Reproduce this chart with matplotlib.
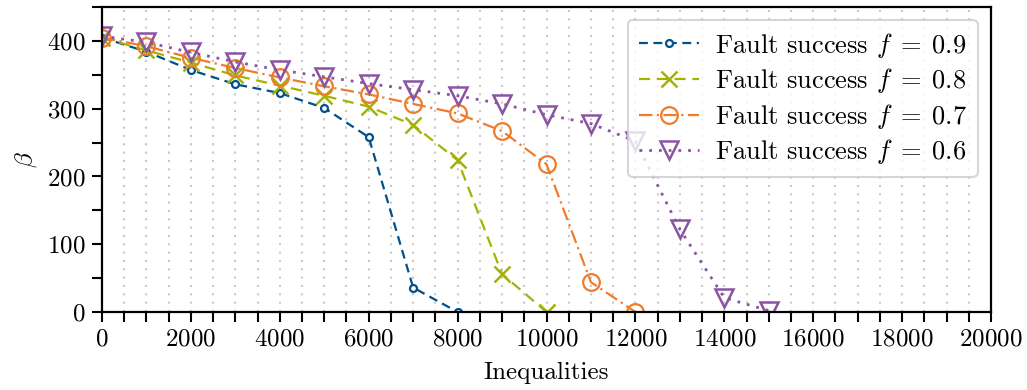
import matplotlib
matplotlib.use('Agg')
from matplotlib import pyplot as plt
from matplotlib.ticker import MultipleLocator

plt.rcParams['font.family'] = 'cmr10'
plt.rcParams['mathtext.fontset'] = 'cm'
plt.rcParams['axes.formatter.use_mathtext'] = True
plt.rcParams['font.size'] = 18

x_09 = [0, 1000, 2000, 3000, 4000, 5000, 6000, 7000, 8000]
beta_09 = [405, 384, 357, 336, 323, 301, 258, 36, 0]

x_08 = [0, 1000, 2000, 3000, 4000, 5000, 6000, 7000, 8000, 9000, 10000]
beta_08 = [405, 386, 368, 349, 334, 319, 303, 276, 224, 56, 0]

x_07 = [0, 1000, 2000, 3000, 4000, 5000, 6000, 7000, 8000, 9000, 10000, 11000, 12000]
beta_07 = [405, 392, 375, 360, 346, 333, 321, 307, 293, 267, 218, 44, 0]

x_06 = [0, 1000, 2000, 3000, 4000, 5000, 6000, 7000, 8000, 9000, 10000, 11000,
        12000, 13000, 14000, 15000]
beta_06 = [407, 398, 383, 369, 357, 347, 337, 328, 319, 307, 291, 278, 252, 122, 21, 2]

labels = [r'Fault success $f\;=\;0.9$', r'Fault success $f\;=\;0.8$',
          r'Fault success $f\;=\;0.7$', r'Fault success $f\;=\;0.6$']

fig = plt.figure(figsize=(10.27, 3.9), dpi=100)
ax = fig.add_axes([102 / 1027, 1 - 312 / 390, 889 / 1027, 305 / 390])

ax.plot(x_09, beta_09, linestyle=(0, (4, 2.5)), color='#00508c', marker='o',
        markersize=5, markerfacecolor='white', markeredgewidth=1.6, linewidth=1.6,
        label=labels[0])
ax.plot(x_08, beta_08, linestyle=(0, (5, 3)), color='#a5b300', marker='x',
        markersize=12, markeredgewidth=1.8, linewidth=1.6, label=labels[1])
ax.plot(x_07, beta_07, linestyle=(0, (6, 2, 1, 2)), color='#ef7b2b', marker='o',
        markersize=12, markerfacecolor='none', markeredgewidth=1.6, linewidth=1.6,
        label=labels[2])
ax.plot(x_06, beta_06, linestyle=(0, (1, 2.5)), color='#8b54a2', marker='v',
        markersize=13, markerfacecolor='none', markeredgewidth=1.8, linewidth=2,
        label=labels[3])

ax.set_xlim(0, 20000)
ax.set_ylim(0, 450)
ax.xaxis.set_major_locator(MultipleLocator(2000))
ax.xaxis.set_minor_locator(MultipleLocator(500))
ax.yaxis.set_major_locator(MultipleLocator(100))
ax.yaxis.set_minor_locator(MultipleLocator(50))
ax.grid(True, axis='x', which='both', linestyle=(0, (1, 3)), color='#c8c8c8',
        linewidth=1.5)
ax.set_axisbelow(True)
ax.tick_params(which='both', direction='out', width=1.5, labelsize=18, pad=5)
ax.tick_params(which='major', length=7)
ax.tick_params(which='minor', length=7)
for s in ax.spines.values():
    s.set_linewidth(1.6)

ax.set_xlabel('Inequalities', fontsize=18, labelpad=8)
ax.set_ylabel(r'$\beta$', fontsize=18, labelpad=6)

leg = ax.legend(loc='upper right', fontsize=19, handlelength=2.3, framealpha=0.8,
                edgecolor='#cccccc', borderpad=0.4, labelspacing=0.25,
                handletextpad=0.6, borderaxespad=0, bbox_to_anchor=(0.985, 0.957))
leg.get_frame().set_linewidth(1.5)

plt.savefig('out.png')
